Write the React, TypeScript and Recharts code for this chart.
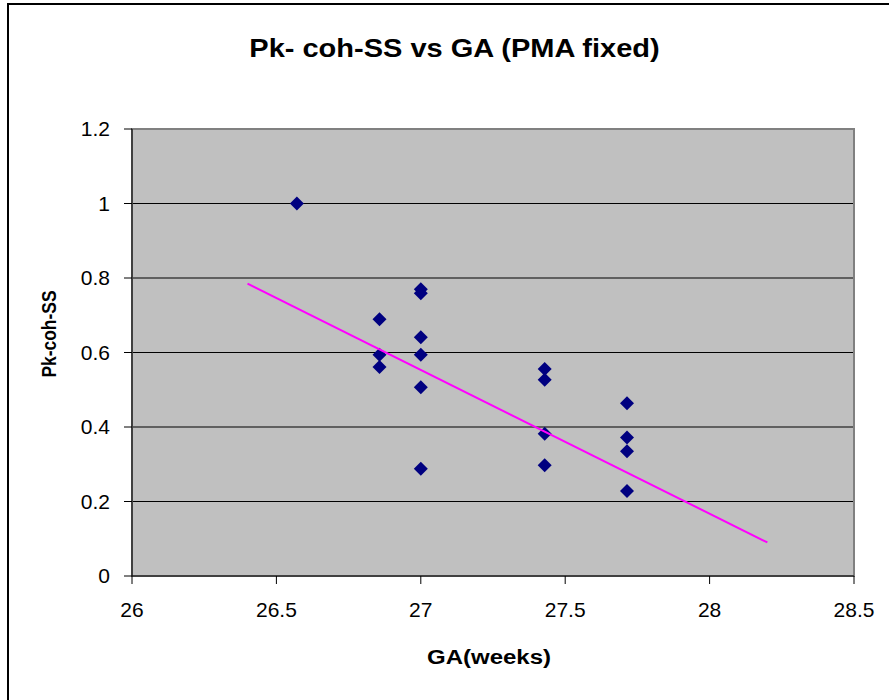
import { ScatterChart, Scatter, XAxis, YAxis, CartesianGrid, ReferenceArea } from "recharts";

// GA (weeks) and Pk-coh-SS
const gaWeeks = [26.571, 26.857, 26.857, 26.857, 27, 27, 27, 27, 27, 27, 27.429, 27.429, 27.429, 27.429, 27.714, 27.714, 27.714, 27.714];
const pkCohSS = [1.0, 0.689, 0.594, 0.561, 0.77, 0.759, 0.641, 0.594, 0.507, 0.288, 0.556, 0.527, 0.382, 0.297, 0.464, 0.372, 0.335, 0.228];

// linear trendline end points
const trendGA = [26.4, 28.2];
const trendPk = [0.785, 0.09];

const xTicks = [26, 26.5, 27, 27.5, 28, 28.5];
const yTicks = [0, 0.2, 0.4, 0.6, 0.8, 1, 1.2];
const yGridLines = [0.2, 0.4, 0.6, 0.8, 1];

const points = gaWeeks.map((x, i) => ({ x, y: pkCohSS[i] }));
const trend = trendGA.map((x, i) => ({ x, y: trendPk[i] }));

const FONT = '"Liberation Sans", Arial, sans-serif';

function Diamond(props: any) {
  const { cx, cy } = props;
  const r = 7;
  return <path d={`M${cx},${cy - r}L${cx + r},${cy}L${cx},${cy + r}L${cx - r},${cy}Z`} fill="#000080" />;
}

export default function App() {
  return (
    <div style={{ position: "absolute", left: 0, top: 0, width: 889, height: 700, background: "#fff", fontFamily: FONT }}>
      <div style={{ position: "absolute", left: 7, top: 3, right: 0, bottom: 0, borderLeft: "2px solid #000", borderTop: "2px solid #000" }} />

      <div style={{ position: "absolute", left: 0, top: 0 }}>
        <ScatterChart width={889} height={700} margin={{ top: 129, right: 35, bottom: 64, left: 0 }}>
          <CartesianGrid vertical={false} horizontalValues={yGridLines} fill="#C0C0C0" fillOpacity={1} stroke="#000" />
          <ReferenceArea x1={26} x2={28.5} y1={0} y2={1.2} fill="none" stroke="#808080" strokeWidth={2} />
          <XAxis
            type="number"
            dataKey="x"
            domain={[26, 28.5]}
            ticks={xTicks}
            height={60}
            tickSize={8}
            tickMargin={18}
            stroke="#000"
            tick={{ fill: "#000", fontSize: 21, fontFamily: FONT }}
          />
          <YAxis
            type="number"
            dataKey="y"
            domain={[0, 1.2]}
            ticks={yTicks}
            width={132}
            tickSize={8}
            tickMargin={14}
            stroke="#000"
            tick={{ fill: "#000", fontSize: 21, fontFamily: FONT }}
          />
          <Scatter data={points} shape={Diamond} isAnimationActive={false} />
          <Scatter data={trend} line={{ stroke: "#FF00FF", strokeWidth: 2 }} shape={() => <g />} isAnimationActive={false} />
        </ScatterChart>
      </div>

      <div style={{ position: "absolute", left: 10, top: 36, width: 889, textAlign: "center", fontSize: 25, lineHeight: "25px", fontWeight: "bold", transform: "scaleX(1.16)" }}>
        Pk- coh-SS vs GA (PMA fixed)
      </div>
      <div style={{ position: "absolute", left: 489 - 150, top: 647, width: 300, textAlign: "center", fontSize: 20, lineHeight: "20px", fontWeight: "bold", transform: "scaleX(1.2)" }}>
        GA(weeks)
      </div>
      <div style={{ position: "absolute", left: 49 - 100, top: 334 - 11, width: 200, height: 22, textAlign: "center", fontSize: 20, lineHeight: "22px", fontWeight: "bold", transform: "rotate(-90deg) scaleX(0.87)" }}>
        Pk-coh-SS
      </div>
    </div>
  );
}
